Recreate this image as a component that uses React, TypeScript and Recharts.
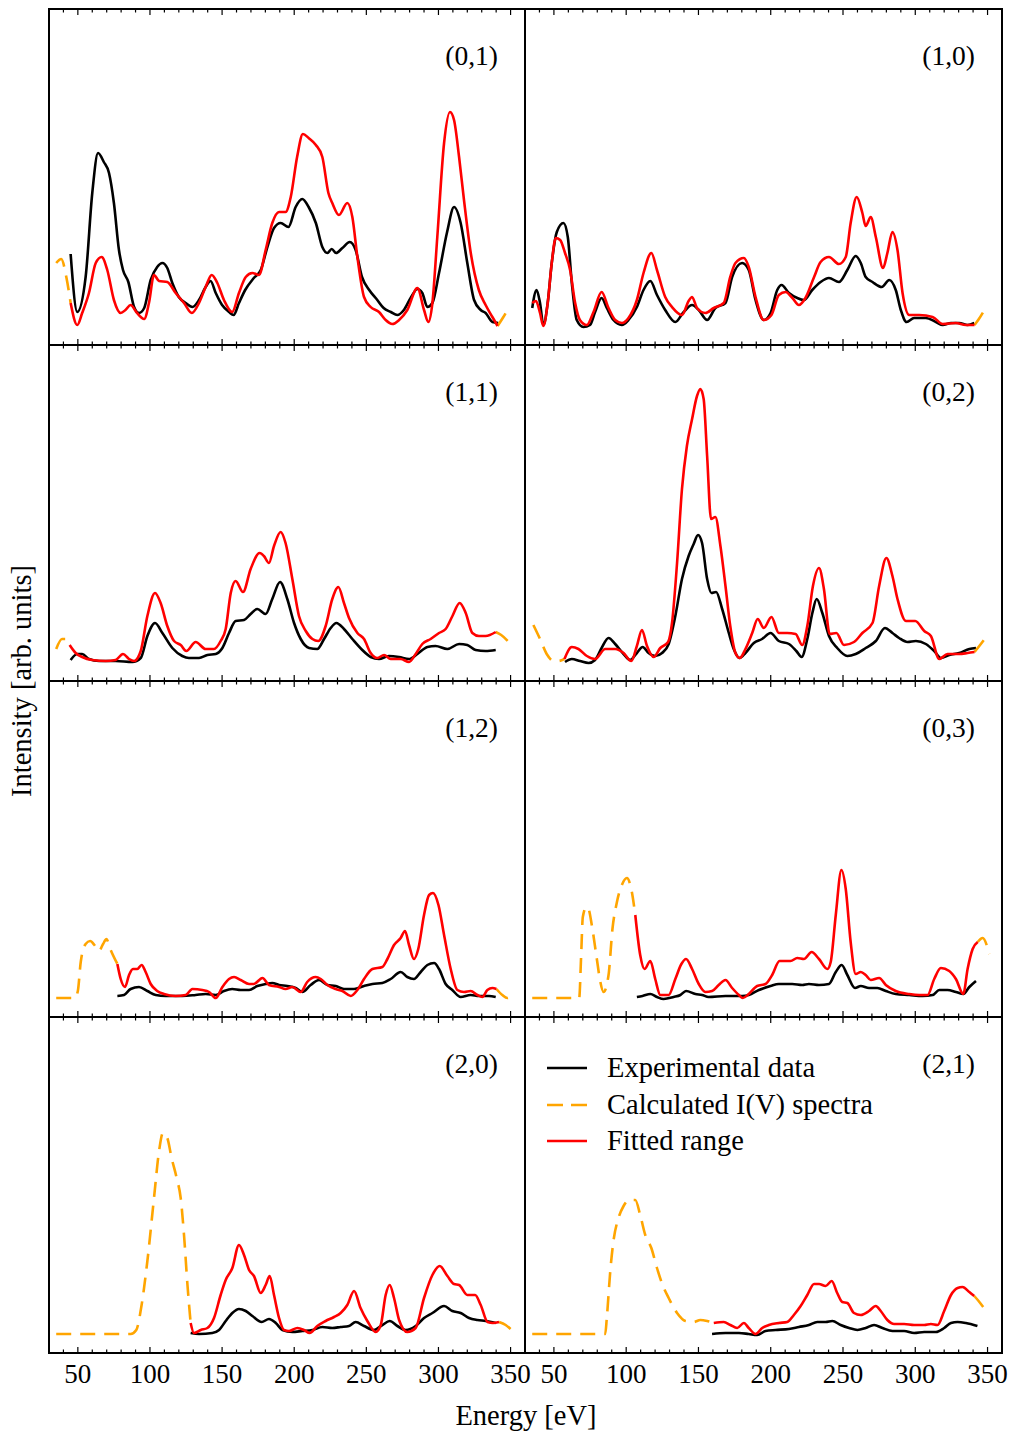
import React from 'react';
import { LineChart, Line, XAxis, YAxis, Legend } from 'recharts';

// ---------------------------------------------------------------------------
// Spectra: [energy eV, intensity arb. units]
// ---------------------------------------------------------------------------
type Pt = [number, number];

const EXP_01: Pt[] = [
  [45, 91], [49.6, 33], [55.4, 68], [60, 152], [64, 192], [68, 183], [71.6, 172], [75, 142], [78.5, 95],
  [81.3, 75], [85, 63], [89, 38], [92.4, 32], [96, 37], [100.5, 65], [105, 78], [108.6, 82], [112, 77],
  [115.5, 62], [120, 48], [124.8, 42], [129.4, 38], [134, 45], [138.6, 58], [142, 64], [145.6, 52], [150, 40],
  [154.8, 33], [158, 30], [161.7, 42], [166, 55], [172, 67], [176.8, 75], [181.4, 98], [186, 117], [190.6, 122],
  [196, 118], [201, 138], [205.6, 146], [210, 138], [215, 122], [219.5, 98], [223, 92], [226, 96], [229, 92],
  [233.4, 97], [238.5, 103], [242.6, 95], [247, 68], [252, 55], [257.6, 45], [262, 37], [267, 33], [271.5, 30],
  [276, 35], [280.7, 47], [285.4, 56], [288.8, 52], [292.3, 38], [295.8, 42], [300.4, 72], [306, 113],
  [310.8, 138], [315.4, 122], [320, 82], [324.7, 45], [329.3, 35], [332.7, 32], [337.4, 23], [341.5, 22],
];
const CALC_01: Pt[] = [
  [35, 82], [38.5, 86], [42, 68], [45, 42], [49.6, 20], [53, 32], [57.7, 52], [62.4, 82], [66.5, 88], [70.4, 75],
  [75, 45], [79.7, 32], [83, 35], [86.6, 40], [90.5, 33], [96, 26], [99.3, 42], [102.8, 70], [106.3, 64],
  [112, 63], [117.8, 52], [123.6, 42], [129, 32], [134, 42], [138.6, 58], [142.8, 70], [146.7, 62], [151.3, 45],
  [157, 33], [161.7, 52], [166.4, 68], [171, 72], [175.6, 70], [180.2, 95], [184.8, 122], [189.5, 133],
  [194, 133], [197.6, 148], [202, 188], [206, 211], [210, 207], [215, 200], [219.5, 188], [223.7, 152],
  [226.4, 142], [231, 130], [236.8, 142], [240.3, 128], [243.8, 88], [248.4, 48], [253, 38], [258.8, 33],
  [263.4, 25], [268, 21], [272.7, 25], [278.4, 35], [285.4, 57], [290, 35], [293, 23], [295.8, 42], [299.2, 108],
  [303.9, 202], [308, 233], [310.8, 225], [314.3, 188], [317.7, 145], [322.4, 92], [328, 55], [332.7, 40],
  [337.4, 28], [341, 19], [345, 28], [349, 38],
];

const EXP_10: Pt[] = [
  [35, 37], [38, 55], [40.4, 42], [42.7, 20], [45.7, 42], [48.5, 82], [52, 113], [56.6, 122], [59.6, 108],
  [62.4, 62], [65.8, 25], [70.4, 18], [75, 20], [78.5, 33], [83, 47], [86.6, 37], [91.2, 25], [97, 20],
  [101.6, 25], [107.4, 38], [112, 55], [116.7, 64], [121.3, 50], [127, 35], [134, 23], [139.8, 33], [145.6, 40],
  [150.2, 35], [156, 25], [161.7, 37], [168.7, 42], [173.3, 68], [180.2, 82], [184.8, 75], [189.5, 45],
  [195.2, 25], [199.9, 32], [204.5, 55], [207.5, 60], [212.6, 52], [218.4, 47], [223, 45], [228.7, 55],
  [234.5, 63], [240.3, 67], [247.2, 63], [253, 75], [258.8, 89], [262.3, 82], [265.7, 68], [270.4, 63],
  [276.8, 58], [282, 65], [286.5, 55], [290, 35], [294, 23], [299.2, 27], [307.3, 27], [314.3, 23], [319, 20],
  [324.7, 22], [330.4, 22], [336.2, 20], [340.8, 22],
];
const CALC_10: Pt[] = [
  [35, 42], [37.6, 44], [40.4, 32], [42.7, 19], [45.7, 42], [48.5, 82], [51.3, 107], [54.3, 105], [57.7, 92],
  [61.2, 75], [64.7, 42], [68, 25], [72.8, 20], [77.4, 33], [83, 53], [87.8, 37], [92.4, 25], [97, 22],
  [101.6, 27], [107.4, 45], [112, 72], [117.4, 92], [121.3, 75], [127, 48], [131.7, 38], [138.6, 30],
  [143.2, 44], [145.6, 48], [149, 37], [154.8, 32], [160.6, 37], [167.5, 42], [172, 68], [175.6, 82],
  [181.4, 87], [184.8, 78], [189.5, 48], [195.2, 25], [200.5, 30], [205.6, 50], [210.3, 53], [215, 47],
  [219.5, 40], [224, 47], [230, 68], [234.5, 83], [240.3, 88], [247.2, 81], [251.9, 88], [255.3, 122],
  [259.5, 148], [263.4, 132], [265.7, 119], [269.2, 128], [272.7, 108], [277.7, 77], [280.7, 92], [284.2, 113],
  [287.7, 95], [291.2, 52], [295.8, 30], [302.7, 30], [312, 28], [319, 21], [328, 22], [335, 20], [341, 20],
  [344, 26], [347, 33],
];

const EXP_11: Pt[] = [
  [45, 21], [49.6, 27], [53, 27], [57.7, 22], [64.7, 20], [76.2, 20], [87.8, 19], [93.6, 23], [98.2, 45],
  [103.5, 58], [108.6, 48], [115.5, 33], [122.4, 25], [127, 23], [134, 23], [139.8, 26], [145.6, 27],
  [150.2, 33], [154.8, 48], [159.4, 60], [165.2, 61], [169.8, 67], [174.4, 72], [180.2, 67], [184.8, 82],
  [190.2, 99], [195.2, 82], [199.9, 58], [204.5, 42], [210.3, 33], [216, 32], [220.7, 42], [225.3, 53],
  [229.2, 58], [234.5, 52], [240.3, 42], [247.2, 31], [253, 24], [258.8, 22], [265.7, 25], [272.7, 24],
  [279.6, 22], [285.4, 27], [292.3, 34], [298, 35], [306.2, 32], [314.3, 37], [320, 36], [325.8, 31],
  [332.7, 30], [339.7, 31],
];
const CALC_11: Pt[] = [
  [35, 32], [39, 42], [41.5, 42], [44.3, 36], [48.5, 28], [53, 24], [60, 21], [69.3, 20], [76.2, 21], [81.3, 27],
  [85.5, 22], [89, 20], [93.6, 30], [98.2, 65], [103.5, 88], [107.4, 78], [112, 55], [116.7, 40], [121.3, 36],
  [125.2, 30], [131.7, 39], [138.6, 32], [144.4, 32], [149, 40], [152.5, 52], [156, 88], [159.4, 100],
  [164.5, 89], [169.8, 112], [176, 128], [179, 125], [182.5, 118], [186, 135], [190.6, 149], [194, 138],
  [198.7, 102], [203.3, 65], [208, 50], [212.6, 42], [216.7, 40], [221.8, 55], [226.4, 82], [230.6, 94],
  [234.5, 78], [238, 63], [243.8, 48], [248.4, 42], [253, 28], [257.6, 23], [262.3, 26], [266.9, 22],
  [273.8, 22], [279.6, 19], [284.2, 27], [288.8, 37], [294.6, 42], [300.4, 48], [305, 52], [309.7, 65],
  [314.7, 78], [318.9, 68], [323.5, 48], [328.1, 45], [332.7, 45], [339.7, 49], [343.5, 46], [350, 37],
];

const EXP_02: Pt[] = [
  [57.7, 19], [62.4, 22], [68, 20], [74, 18], [78.5, 21], [83, 33], [87.8, 43], [92.4, 37], [98.2, 27],
  [102.8, 21], [107.4, 28], [111.4, 34], [115.5, 28], [120.1, 25], [124.8, 28], [129.4, 37], [134, 65],
  [138.6, 102], [143.2, 125], [146.7, 137], [149.7, 146], [152.5, 138], [156, 102], [159, 88], [162.2, 89],
  [166.4, 72], [171, 48], [174.4, 32], [178.4, 23], [182.5, 28], [188.3, 38], [194, 42], [199.9, 48],
  [205.6, 40], [212.6, 37], [217.7, 30], [221.4, 24], [225.3, 42], [228.8, 68], [231.8, 82], [235.7, 68],
  [240.3, 45], [246, 33], [253, 25], [258.8, 27], [265.7, 33], [272.7, 40], [279, 53], [284.2, 48],
  [288.8, 43], [294.6, 39], [300.4, 40], [307.3, 37], [313.1, 30], [317.7, 23], [323.5, 26], [330.4, 28],
  [337.4, 32], [342, 33],
];
const CALC_02: Pt[] = [
  [35.8, 56], [40.4, 42], [45, 27], [50, 20], [53, 20], [57.3, 22], [62.4, 34], [67, 32], [72.8, 25],
  [78.5, 22], [85.5, 32], [92.4, 32], [98.2, 28], [103.5, 20], [107.4, 35], [110.9, 51], [114.4, 35], [119, 24],
  [123.6, 33], [129, 39], [131.7, 58], [135.2, 118], [138.6, 192], [142, 235], [145.6, 262], [149, 285],
  [151.3, 292], [153.6, 282], [156, 225], [158.7, 162], [161.7, 164], [165.2, 135], [168.7, 95], [172, 55],
  [175.6, 28], [178.6, 23], [182.5, 32], [187.2, 48], [191, 62], [195.2, 53], [200.5, 64], [205.6, 48],
  [211.4, 48], [217.2, 47], [221.8, 36], [225.3, 55], [229.2, 95], [233.4, 113], [236.8, 92], [240.8, 47],
  [245.4, 48], [250.7, 36], [257.6, 39], [263.4, 48], [270.4, 58], [275, 95], [280, 123], [284.2, 105],
  [287.7, 82], [293.5, 60], [300, 60], [306.2, 50], [310.8, 45], [316.6, 22], [322.3, 27], [330.4, 27],
  [336.2, 28], [341, 29], [344.3, 35], [351, 48],
];

const EXP_12: Pt[] = [
  [77.4, 21], [82, 22], [86.6, 28], [92.4, 30], [98.2, 26], [104, 22], [110.9, 21], [122.4, 21], [131.7, 22],
  [138.6, 23], [145.6, 22], [151.3, 26], [157, 28], [162.9, 27], [168.7, 27], [174.4, 31], [180.2, 33],
  [184.8, 34], [189.5, 32], [195.2, 31], [201, 29], [205.6, 25], [211.4, 32], [217.2, 37], [223, 32],
  [228.8, 31], [234.5, 28], [241.5, 28], [248.4, 31], [254.2, 33], [261.1, 34], [266.9, 38], [273.8, 45],
  [278.4, 40], [283, 38], [287.7, 45], [292.3, 52], [297, 54], [300.4, 48], [305, 33], [309.6, 27],
  [315.4, 20], [322.3, 22], [328.1, 21], [335, 21], [339.7, 20],
];
const CALC_12: Pt[] = [
  [35, 19], [48, 19], [50, 26], [52, 55], [55.4, 73], [58.5, 76], [61.5, 72], [64.5, 66], [67.5, 73],
  [69.8, 78], [72.5, 68], [77.4, 53], [79.7, 38], [82.7, 30], [85.5, 42], [88.2, 48], [91.2, 48], [94.2, 52],
  [97, 45], [100.5, 33], [105, 26], [109.7, 23], [117.8, 21], [124.8, 22], [129.4, 28], [136.3, 27], [141, 25],
  [145.6, 19], [150.2, 30], [154.8, 38], [158.3, 40], [162.9, 37], [168.7, 33], [172, 33], [178, 39],
  [182.5, 32], [189.5, 30], [194, 28], [198.7, 30], [204.5, 25], [209, 35], [214.9, 40], [218.4, 38], [223, 32],
  [228.8, 28], [233.4, 26], [239.2, 21], [243.8, 27], [248.4, 38], [254.2, 48], [261.1, 50], [264.6, 58],
  [269.2, 72], [273.8, 79], [276.8, 86], [279.6, 72], [283, 58], [286, 68], [290, 102], [293.5, 122],
  [296.2, 124], [300, 112], [303.9, 82], [308.5, 48], [313.1, 27], [317.7, 25], [322.3, 26], [327, 22],
  [330.4, 20], [333.9, 27], [337.4, 29], [340.2, 28], [344.3, 22], [347.8, 19], [350.8, 22],
];

const EXP_03: Pt[] = [
  [107.4, 20], [111.3, 21], [116.7, 23], [121.3, 20], [125.9, 18], [132.8, 20], [137.5, 22], [141.4, 26],
  [147.9, 23], [152.5, 22], [157, 20], [168.7, 21], [180.2, 21], [184.8, 22], [191.8, 27], [199.9, 31],
  [205.6, 33], [214.9, 33], [221.8, 32], [226.4, 33], [233.4, 32], [240.3, 33], [245, 45], [249.1, 52],
  [253, 42], [258.3, 29], [262.3, 31], [268, 29], [273.8, 29], [279.6, 26], [286.5, 23], [295.8, 22], [305, 21],
  [312, 22], [316.6, 27], [322.3, 27], [328.1, 25], [333.2, 23], [337.4, 30], [342, 36],
];
const CALC_03: Pt[] = [
  [35, 19], [67.5, 19], [68.8, 60], [70, 100], [72.5, 110], [74, 108], [76.2, 92], [79.7, 58], [82, 36],
  [84.3, 25], [87.8, 42], [90.5, 88], [93.6, 115], [97, 132], [100.5, 139], [103.5, 128], [106.3, 102],
  [109.7, 62], [112.7, 48], [116.7, 56], [120.1, 38], [123.6, 22], [129.4, 22], [134, 38], [138.2, 53],
  [141.4, 58], [145.6, 48], [150.2, 33], [154.8, 25], [159.4, 26], [164, 32], [168.7, 37], [173.3, 29],
  [178, 22], [180.7, 19], [184.8, 23], [190.6, 31], [196.4, 33], [201, 42], [206.1, 56], [213.7, 56],
  [218.4, 59], [223, 58], [228.3, 65], [233.4, 58], [239.2, 48], [241.5, 55], [245, 102], [248.9, 147],
  [251.9, 128], [255.3, 75], [258.8, 43], [262.3, 45], [265.7, 42], [269.2, 37], [275, 39], [279.6, 32],
  [286.5, 26], [295.8, 23], [302.7, 22], [308.5, 22], [313.1, 38], [317.7, 49], [323.5, 46], [328.1, 38],
  [333.2, 23], [336.2, 48], [339.7, 68], [343.2, 75], [346.6, 79], [351.2, 63],
];

const EXP_20: Pt[] = [
  [128.2, 20], [134, 19], [143.2, 20], [147.9, 23], [152.5, 32], [157.1, 40], [161.7, 44], [166.4, 42],
  [171, 37], [177.4, 31], [182.5, 34], [187.2, 30], [191.8, 23], [198.7, 21], [205.6, 22], [212.6, 23],
  [219.5, 26], [226.4, 25], [232.2, 26], [238, 27], [242.6, 31], [248.4, 27], [255.3, 23], [261.1, 28],
  [266.2, 32], [271.5, 27], [277.3, 23], [284.2, 27], [290, 35], [295.8, 40], [303.9, 47], [309.6, 42],
  [315.4, 40], [321.2, 35], [327, 33], [332.7, 32], [339.7, 30],
];
const CALC_20: Pt[] = [
  [35, 19], [86.6, 19], [90.5, 23], [94.2, 48], [98.2, 92], [102.8, 155], [106.3, 202], [109, 220], [112, 215],
  [115, 195], [118.5, 175], [121.3, 155], [123.6, 118], [126, 68], [128.2, 30], [130.5, 20], [135.2, 23],
  [139.8, 25], [144.4, 35], [149, 58], [152.5, 73], [157.1, 85], [161.7, 108], [165.2, 98], [168.7, 83],
  [172.1, 77], [176.8, 60], [180.2, 68], [183, 77], [186, 58], [189.5, 35], [192.9, 23], [196.4, 22],
  [202.2, 25], [206.8, 23], [210.7, 20], [216, 27], [221.8, 32], [227.6, 36], [232.2, 40], [236.8, 48],
  [241.5, 62], [246, 45], [250.7, 32], [256.5, 21], [260, 28], [263.4, 58], [266.2, 68], [269.2, 55],
  [272.7, 33], [278.4, 21], [284.2, 25], [290, 55], [295.8, 78], [300.9, 87], [306.2, 77], [310.8, 69],
  [314.3, 68], [320, 58], [325.4, 58], [329.3, 48], [334, 31], [337.8, 30], [342, 31], [346.6, 28], [350, 24],
];

const EXP_21: Pt[] = [
  [159.4, 19], [168.7, 20], [178, 20], [184.8, 19], [190.6, 18], [196.4, 22], [203.3, 23], [212.6, 24],
  [219.5, 26], [226.4, 28], [232.2, 31], [238, 31], [242.6, 32], [248.4, 28], [254.2, 25], [260, 23],
  [265.7, 25], [271.5, 28], [277.3, 25], [284.2, 22], [292.3, 22], [299.2, 20], [306.2, 21], [314.3, 21],
  [320, 25], [324.7, 30], [329.3, 31], [335, 30], [343, 27],
];
const CALC_21: Pt[] = [
  [35, 19], [85.5, 19], [86.6, 35], [89, 82], [91.2, 112], [94.7, 135], [98.2, 147], [102.1, 153], [106.3, 153],
  [109.7, 138], [113.2, 118], [117.4, 105], [121.3, 85], [125.2, 68], [129.4, 55], [135.2, 40], [141, 32],
  [146.7, 31], [151.3, 33], [156, 32], [160.6, 30], [167.5, 31], [172.1, 28], [176.8, 25], [181.4, 30],
  [184.8, 25], [189.5, 19], [194.1, 25], [198.7, 28], [205.6, 30], [211.4, 31], [216, 38], [220.7, 47],
  [225.3, 58], [230, 69], [233.4, 69], [238, 67], [242.2, 72], [246, 60], [249.5, 51], [253, 50], [257.6, 40],
  [262.3, 38], [268, 42], [272.7, 47], [276.1, 42], [280.7, 33], [285.4, 29], [292.3, 29], [299.2, 28],
  [306.2, 28], [310.8, 29], [315.4, 28], [320, 42], [324.7, 58], [329.3, 65], [332.7, 66], [337.4, 61],
  [340.8, 57], [343.8, 52], [347, 46],
];

// Panel order: row by row, left column first
const PANEL_LABELS = ['(0,1)', '(1,0)', '(1,1)', '(0,2)', '(1,2)', '(0,3)', '(2,0)', '(2,1)'];
const EXP_SERIES = [EXP_01, EXP_10, EXP_11, EXP_02, EXP_12, EXP_03, EXP_20, EXP_21];
const CALC_SERIES = [CALC_01, CALC_10, CALC_11, CALC_02, CALC_12, CALC_03, CALC_20, CALC_21];
// Energy window used in the fit, per panel
const FIT_RANGES: [number, number][] = [
  [45, 341], [35, 341], [44.3, 339.7], [57.3, 341], [77.4, 340.2], [106.3, 343.2], [128.2, 342], [160.6, 340.8],
];

const ENERGY_TICKS = [40, 50, 60, 70, 80, 90, 100, 110, 120, 130, 140, 150, 160, 170, 180, 190, 200, 210, 220, 230,
  240, 250, 260, 270, 280, 290, 300, 310, 320, 330, 340, 350];
const ENERGY_LABELS = [50, 100, 150, 200, 250, 300, 350];

const LEGEND_ITEMS = [
  { label: 'Experimental data', color: '#000000', dash: undefined as string | undefined },
  { label: 'Calculated I(V) spectra', color: '#FFA500', dash: '16 8' },
  { label: 'Fitted range', color: '#FF0000', dash: undefined as string | undefined },
];

// ---------------------------------------------------------------------------
// Layout / style
// ---------------------------------------------------------------------------
const SERIF = '"Liberation Serif", "DejaVu Serif", "Times New Roman", serif';
const TICK_FONT = 27;
const PANEL_FONT = 27.5;
const TITLE_FONT = 28.5;
const FRAME_LEFT = 49;
const FRAME_TOP = 9;
const COL_X = [49, 525];
const COL_W = [476, 477];
const PANEL_H = 336;
const LABEL_ROOM = 30;
const LINE_W = 2.6;
const BLACK = '#000000';
const ORANGE = '#FFA500';
const RED = '#FF0000';

const toRows = (pts: Pt[]) => pts.map(([e, v]) => ({ e, v }));

function splitCalc(pts: Pt[], [lo, hi]: [number, number]) {
  return {
    below: toRows(pts.filter(([e]) => e <= lo)),
    fitted: toRows(pts.filter(([e]) => e >= lo && e <= hi)),
    above: toRows(pts.filter(([e]) => e >= hi)),
  };
}

// Inward ticks on the bottom and top edge of a panel, labels only on the last row
function EnergyTick(props: any) {
  const { x, y, payload, showLabel } = props;
  const major = payload.value % 50 === 0;
  const len = major ? 6 : 3.5;
  return (
    <g>
      <line x1={x} x2={x} y1={y} y2={y - len} stroke={BLACK} strokeWidth={1.2} />
      <line x1={x} x2={x} y1={y - PANEL_H} y2={y - PANEL_H + len} stroke={BLACK} strokeWidth={1.2} />
      {showLabel && ENERGY_LABELS.includes(payload.value) && (
        <text x={x} y={y + 30} textAnchor="middle" fontFamily={SERIF} fontSize={TICK_FONT} fill={BLACK}>
          {payload.value}
        </text>
      )}
    </g>
  );
}

function LegendBox() {
  return (
    <div style={{ fontFamily: SERIF, fontSize: TITLE_FONT, color: BLACK }}>
      {LEGEND_ITEMS.map((item) => (
        <div key={item.label} style={{ display: 'flex', alignItems: 'center', height: 36.5, lineHeight: '36.5px' }}>
          <svg width={40} height={6} style={{ display: 'block' }}>
            <line x1={0} x2={40} y1={3} y2={3} stroke={item.color} strokeWidth={LINE_W} strokeDasharray={item.dash} />
          </svg>
          <span style={{ marginLeft: 20, whiteSpace: 'nowrap' }}>{item.label}</span>
        </div>
      ))}
    </div>
  );
}

function Panel({ index }: { index: number }) {
  const row = Math.floor(index / 2);
  const col = index % 2;
  const bottomRow = row === 3;
  const axisH = bottomRow ? 40 : 1;
  const exp = toRows(EXP_SERIES[index]);
  const calc = splitCalc(CALC_SERIES[index], FIT_RANGES[index]);

  return (
    <div style={{ position: 'absolute', left: COL_X[col], top: FRAME_TOP + row * PANEL_H }}>
      <LineChart
        width={COL_W[col] + LABEL_ROOM}
        height={PANEL_H + axisH}
        margin={{ top: 0, right: LABEL_ROOM, bottom: 0, left: 0 }}
      >
        <XAxis
          type="number"
          dataKey="e"
          domain={[30, 360]}
          allowDataOverflow
          ticks={ENERGY_TICKS}
          interval={0}
          height={axisH}
          tickSize={0}
          tickMargin={0}
          tickLine={false}
          axisLine={false}
          tick={(p: any) => <EnergyTick {...p} showLabel={bottomRow} />}
        />
        <YAxis type="number" hide domain={[0, PANEL_H]} allowDataOverflow />
        {index === 7 && (
          <Legend
            layout="horizontal"
            verticalAlign="middle"
            align="center"
            content={() => <LegendBox />}
            wrapperStyle={{ left: 22, top: 33, width: 'auto', height: 'auto' }}
          />
        )}
        <Line
          data={exp}
          dataKey="v"
          type="monotone"
          stroke={BLACK}
          strokeWidth={LINE_W}
          dot={false}
          isAnimationActive={false}
          name="Experimental data"
        />
        {calc.below.length > 1 && (
          <Line
            data={calc.below}
            dataKey="v"
            type="monotone"
            stroke={ORANGE}
            strokeWidth={LINE_W}
            strokeDasharray="15 9"
            dot={false}
            isAnimationActive={false}
            name="Calculated I(V) spectra"
          />
        )}
        {calc.above.length > 1 && (
          <Line
            data={calc.above}
            dataKey="v"
            type="monotone"
            stroke={ORANGE}
            strokeWidth={LINE_W}
            strokeDasharray="15 9"
            dot={false}
            isAnimationActive={false}
            legendType="none"
          />
        )}
        <Line
          data={calc.fitted}
          dataKey="v"
          type="monotone"
          stroke={RED}
          strokeWidth={LINE_W}
          dot={false}
          isAnimationActive={false}
          name="Fitted range"
        />
      </LineChart>
    </div>
  );
}

export default function App() {
  const frameW = COL_W[0] + COL_W[1];
  const frameH = PANEL_H * 4;
  return (
    <div style={{ position: 'absolute', left: 0, top: 0, width: 1018, height: 1438, background: '#fff' }}>
      {PANEL_LABELS.map((_, i) => (
        <Panel key={i} index={i} />
      ))}

      {/* frame and panel dividers */}
      <div
        style={{
          position: 'absolute',
          left: FRAME_LEFT - 1,
          top: FRAME_TOP - 1,
          width: frameW + 2,
          height: frameH + 2,
          border: `2px solid ${BLACK}`,
          boxSizing: 'border-box',
        }}
      />
      <div style={{ position: 'absolute', left: COL_X[1] - 1, top: FRAME_TOP, width: 2, height: frameH, background: BLACK }} />
      {[1, 2, 3].map((r) => (
        <div
          key={r}
          style={{ position: 'absolute', left: FRAME_LEFT, top: FRAME_TOP + r * PANEL_H - 1, width: frameW, height: 2, background: BLACK }}
        />
      ))}

      {/* panel labels and axis titles */}
      <svg width={1018} height={1438} style={{ position: 'absolute', left: 0, top: 0, pointerEvents: 'none' }}>
        {PANEL_LABELS.map((label, i) => {
          const row = Math.floor(i / 2);
          const col = i % 2;
          return (
            <text
              key={label}
              x={COL_X[col] + COL_W[col] - 27}
              y={FRAME_TOP + row * PANEL_H + 56}
              textAnchor="end"
              fontFamily={SERIF}
              fontSize={PANEL_FONT}
              fill={BLACK}
            >
              {label}
            </text>
          );
        })}
        <text x={526} y={1425} textAnchor="middle" fontFamily={SERIF} fontSize={TITLE_FONT} fill={BLACK}>
          Energy [eV]
        </text>
        <text
          transform={`translate(31, ${FRAME_TOP + frameH / 2}) rotate(-90)`}
          textAnchor="middle"
          fontFamily={SERIF}
          fontSize={TITLE_FONT}
          fill={BLACK}
        >
          Intensity [arb. units]
        </text>
      </svg>
    </div>
  );
}
